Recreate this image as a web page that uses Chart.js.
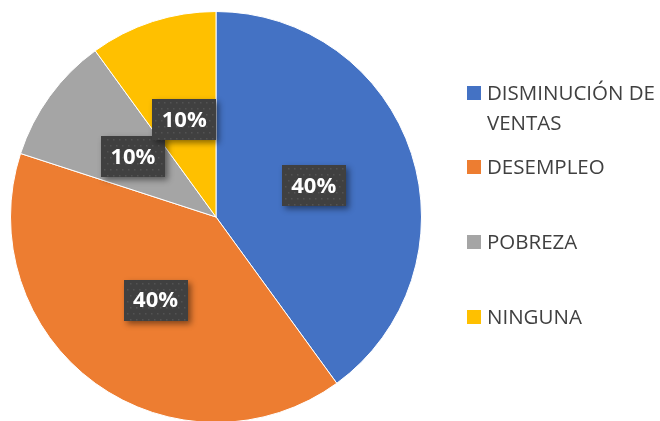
<!DOCTYPE html>
<html>
<head>
<meta charset="utf-8">
<script src="https://cdn.jsdelivr.net/npm/chart.js@4.4.1/dist/chart.umd.min.js"></script>
<style>
  html, body { margin:0; padding:0; background:#fff; }
  #wrap { position:relative; width:660px; height:421px; overflow:hidden; }
  canvas { position:absolute; left:0; top:0; }
  .lg { position:absolute; left:467px; font-family:"Open Sans", sans-serif; font-size:20.5px; color:#404040; line-height:30px; white-space:nowrap; }
  .lg .sw { position:absolute; left:0; width:14px; height:14px; }
  .lg .tx { position:absolute; left:20px; }
</style>
</head>
<body>
<div id="wrap">
  <canvas id="c" width="660" height="440"></canvas>
</div>
<script>
const categories = ["DISMINUCIÓN DE VENTAS", "DESEMPLEO", "POBREZA", "NINGUNA"];
const legendLines = [["DISMINUCIÓN DE", "VENTAS"], ["DESEMPLEO"], ["POBREZA"], ["NINGUNA"]];
const values = [40, 40, 10, 10];
const valueLabels = ["40%", "40%", "10%", "10%"];
const colors = ["#4472C4", "#ED7D31", "#A5A5A5", "#FFC000"];

const labelPlugin = {
  id: "boxLabels",
  afterDatasetsDraw(chart) {
    const ctx = chart.ctx;
    const meta = chart.getDatasetMeta(0);
    meta.data.forEach((arc, i) => {
      const p = arc.getCenterPoint();
      const w = 64, h = 41;
      const x = Math.round(p.x - w / 2), y = Math.round(p.y - h / 2);
      ctx.save();
      ctx.shadowColor = "rgba(0,0,0,0.45)";
      ctx.shadowBlur = 6;
      ctx.shadowOffsetX = 3;
      ctx.shadowOffsetY = 3;
      ctx.fillStyle = "#404040";
      ctx.fillRect(x, y, w, h);
      ctx.restore();
      ctx.save();
      ctx.fillStyle = "#535353";
      for (let yy = y + 3; yy < y + h - 1; yy += 6) {
        for (let xx = x + 3 + ((Math.round((yy - y) / 6) % 2) ? 3 : 0); xx < x + w - 1; xx += 6) {
          ctx.fillRect(xx, yy, 1.5, 1.5);
        }
      }
      ctx.fillStyle = "#ffffff";
      ctx.font = "bold 22px 'Open Sans', sans-serif";
      ctx.textAlign = "center";
      ctx.textBaseline = "middle";
      ctx.fillText(valueLabels[i], p.x, p.y + 1);
      ctx.restore();
    });
  }
};

new Chart(document.getElementById("c"), {
  type: "pie",
  data: {
    labels: categories,
    datasets: [{
      data: values,
      backgroundColor: colors,
      borderColor: "#ffffff",
      borderWidth: 1
    }]
  },
  options: {
    responsive: false,
    animation: false,
    layout: { padding: { left: 10, top: 11, right: 238, bottom: 17 } },
    plugins: {
      legend: { display: false },
      tooltip: { enabled: false }
    }
  },
  plugins: [labelPlugin]
});

// HTML legend
const wrap = document.getElementById("wrap");
const tops = [77, 151, 226, 301];
legendLines.forEach((lines, i) => {
  const d = document.createElement("div");
  d.className = "lg";
  d.style.top = tops[i] + "px";
  const sw = document.createElement("div");
  sw.className = "sw";
  sw.style.background = colors[i];
  sw.style.top = "9px";
  d.appendChild(sw);
  const t = document.createElement("div");
  t.className = "tx";
  t.innerHTML = lines.join("<br>");
  d.appendChild(t);
  wrap.appendChild(d);
});
</script>
</body>
</html>
